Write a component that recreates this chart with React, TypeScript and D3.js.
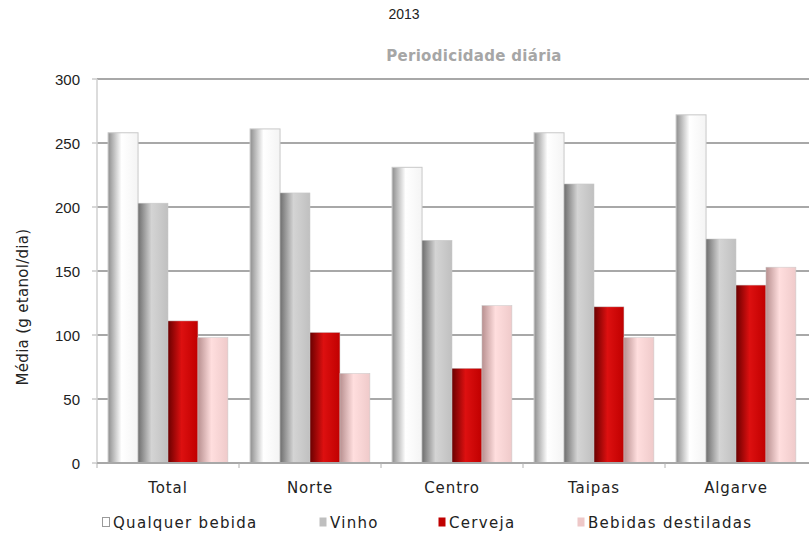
import React from "react";
import * as d3 from "d3";

const categories = ["Total", "Norte", "Centro", "Taipas", "Algarve"];
const seriesNames = ["Qualquer bebida", "Vinho", "Cerveja", "Bebidas destiladas"];
const qualquer = [258, 261, 231, 258, 272];
const vinho = [203, 211, 174, 218, 175];
const cerveja = [111, 102, 74, 122, 139];
const destiladas = [98, 70, 123, 98, 153];
const yTicks = [0, 50, 100, 150, 200, 250, 300];

const seriesValues = [qualquer, vinho, cerveja, destiladas];
const gradStops = [
  ["#8e8e8e", "#ffffff", "#f4f4f4"],
  ["#6e6e6e", "#d4d4d4", "#c0c0c0"],
  ["#6a0000", "#dd1010", "#c00000"],
  ["#b89090", "#ffdede", "#efcaca"],
];
const legendFill = ["#ffffff", "#bfbfbf", "#c00000", "#eec8c8"];
const legendStroke = ["#9a9a9a", "#bfbfbf", "#c00000", "#eec8c8"];

const W = 809, H = 538;
const left = 97, right = 807, top = 79, bottom = 463;
const font = "'DejaVu Sans', sans-serif";
const numFont = "'Liberation Sans', Arial, sans-serif";

export default function App() {
  const x0 = d3.scaleBand<string>().domain(categories).range([left, right]).paddingInner(0).paddingOuter(0);
  const x1 = d3.scaleBand<string>().domain(seriesNames).range([0, x0.bandwidth()]).paddingOuter(0.37).paddingInner(0);
  const y = d3.scaleLinear().domain([0, 300]).range([bottom, top]);
  const legendX = [102, 319, 438, 577];
  return (
    <svg width={W} height={H} style={{ position: "absolute", left: 0, top: 0 }}>
      <defs>
        {gradStops.map((g, i) => (
          <linearGradient key={i} id={`g${i}`} x1="0" x2="1" y1="0" y2="0">
            <stop offset="0" stopColor={g[0]} />
            <stop offset="0.45" stopColor={g[1]} />
            <stop offset="1" stopColor={g[2]} />
          </linearGradient>
        ))}
      </defs>
      <rect x={0} y={0} width={W} height={H} fill="#fff" />
      <text x={404} y={19} textAnchor="middle" fontFamily={numFont} fontSize={14} fill="#222">2013</text>
      <text x={474} y={61} textAnchor="middle" fontFamily={font} fontSize={15} fontWeight="bold" fill="#a6a6a6" letterSpacing={0.3}>Periodicidade diária</text>
      {yTicks.map((t) => (
        <g key={t}>
          {t > 0 && <line x1={left} x2={right + 2} y1={y(t)} y2={y(t)} stroke="#a8a8a8" strokeWidth={2} />}
          <line x1={left - 5} x2={left} y1={y(t)} y2={y(t)} stroke="#b0b0b0" strokeWidth={1} />
          <text x={left - 17} y={y(t) + 6} textAnchor="end" fontFamily={numFont} fontSize={15} fill="#222">{t}</text>
        </g>
      ))}
      <line x1={left} x2={left} y1={top} y2={bottom} stroke="#d0d0d0" strokeWidth={1.5} />
      {categories.map((c, ci) =>
        seriesValues.map((vals, si) => (
          <rect key={c + si} x={(x0(c) as number) + (x1(seriesNames[si]) as number)} y={y(vals[ci])}
            width={x1.bandwidth()} height={bottom - y(vals[ci])} fill={`url(#g${si})`} stroke="#c8c8c8" strokeWidth={si === 0 ? 1 : 0.5} />
        ))
      )}
      <line x1={left} x2={right + 2} y1={bottom} y2={bottom} stroke="#a8a8a8" strokeWidth={2} />
      {categories.map((c) => (
        <g key={c}>
          <line x1={x0(c) as number} x2={x0(c) as number} y1={bottom} y2={bottom + 5} stroke="#b0b0b0" />
          <text x={(x0(c) as number) + x0.bandwidth() / 2} y={493} textAnchor="middle" fontFamily={font} fontSize={15} letterSpacing={0.9} fill="#222">{c}</text>
        </g>
      ))}
      <text transform={`translate(28,307) rotate(-90)`} textAnchor="middle" fontFamily={font} fontSize={15} letterSpacing={0.3} fill="#222">Média (g etanol/dia)</text>
      {seriesNames.map((s, i) => (
        <g key={s}>
          <rect x={legendX[i] + 0.5} y={517.5} width={7} height={9} fill={legendFill[i]} stroke={legendStroke[i]} strokeWidth={i === 0 ? 1 : 0} />
          <text x={legendX[i] + 11} y={528} fontFamily={font} fontSize={15} letterSpacing={1.3} fill="#222">{s}</text>
        </g>
      ))}
    </svg>
  );
}
